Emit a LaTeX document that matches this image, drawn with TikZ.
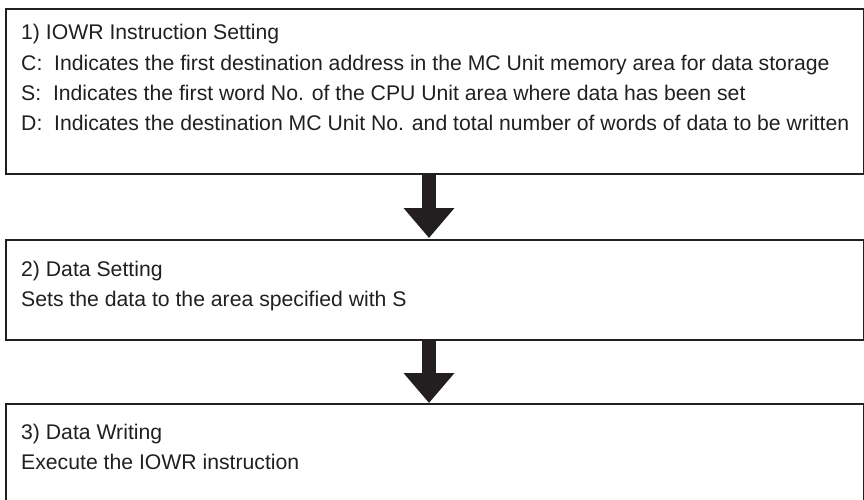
\documentclass[tikz,border=0pt]{standalone}
\usepackage{fontspec}
\setmainfont{Liberation Sans}
\usetikzlibrary{arrows.meta}
\definecolor{ink}{HTML}{231F20}
\begin{document}
\begin{tikzpicture}[x=1pt,y=-1pt,
  box/.style={draw=ink, line width=1.8pt, anchor=north west, inner sep=0pt, minimum width=858pt},
  txt/.style={anchor=base west, inner sep=0pt, text=ink, font=\fontsize{21.2pt}{24pt}\selectfont},
  flow/.style={draw=ink, line width=14pt, -{Triangle[width=49pt,length=30pt]}}]
\useasboundingbox (0,0) rectangle (864,500);
\node[box, minimum height=165pt] (b1) at (5,8) {};
\node[box, minimum height=100pt] (b2) at (5,239) {};
\node[box, minimum height=110pt] (b3) at (5,403) {};
\node[txt] (t11) at (21,40) {1) IOWR Instruction Setting};
\node[txt] (t12) at (21,71) {C:\ \ Indicates the first destination address in the MC Unit memory area for data storage};
\node[txt] (t13) at (21,101) {S:\ \ Indicates the first word No. of the CPU Unit area where data has been set};
\node[txt] (t14) at (21,131) {D:\ \ Indicates the destination MC Unit No. and total number of words of data to be written};
\node[txt] (t21) at (21,276) {2) Data Setting};
\node[txt] (t22) at (21,306) {Sets the data to the area specified with S};
\node[txt] (t31) at (21,439) {3) Data Writing};
\node[txt] (t32) at (21,469) {Execute the IOWR instruction};
\coordinate (a1s) at (429,173);
\coordinate (a1e) at (429,238);
\coordinate (a2s) at (429,339);
\coordinate (a2e) at (429,403);
\draw[flow] (a1s) -- (a1e);
\draw[flow] (a2s) -- (a2e);
\end{tikzpicture}
\end{document}
